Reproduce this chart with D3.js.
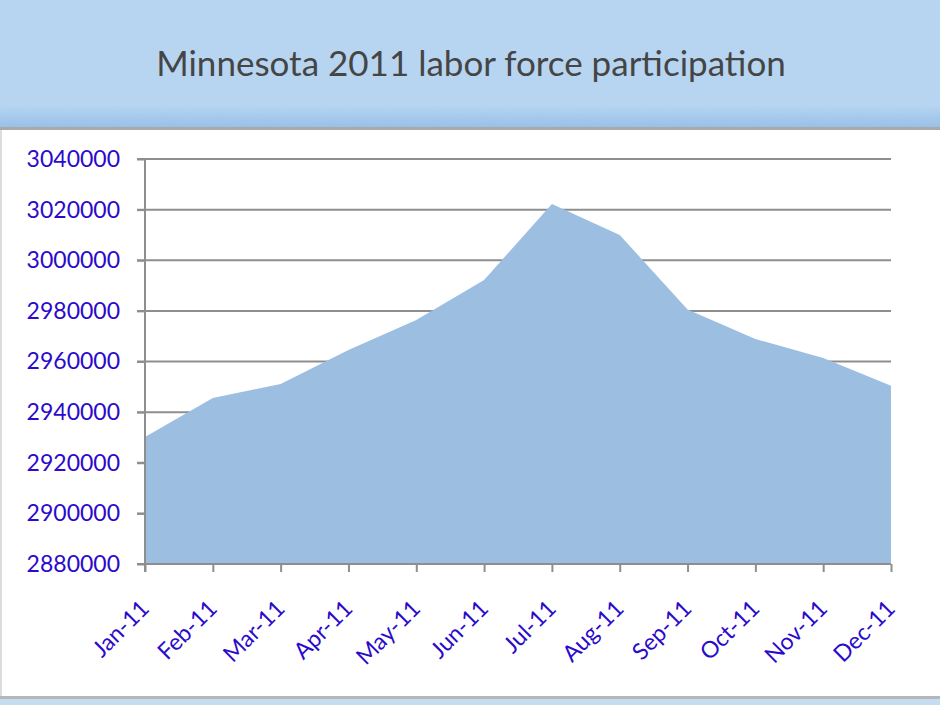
<!DOCTYPE html>
<html>
<head>
<meta charset="utf-8">
<script src="https://cdn.jsdelivr.net/npm/d3@7"></script>
<style>
  html, body { margin: 0; padding: 0; background: #fff; }
  svg { display: block; }
</style>
</head>
<body>
<svg id="chart" width="940" height="705"></svg>
<script>
const months = ["Jan-11","Feb-11","Mar-11","Apr-11","May-11","Jun-11","Jul-11","Aug-11","Sep-11","Oct-11","Nov-11","Dec-11"];
const laborForce = [2930200, 2945600, 2951100, 2964500, 2976400, 2992200, 3022200, 3010000, 2980500, 2968900, 2961400, 2950400];
const yTicks = [2880000, 2900000, 2920000, 2940000, 2960000, 2980000, 3000000, 3020000, 3040000];
const title = "Minnesota 2011 labor force participation";

const svg = d3.select("#chart");
const W = 940, H = 705;

// Background decoration
const defs = svg.append("defs");
const band = defs.append("linearGradient").attr("id","band").attr("x1",0).attr("y1",0).attr("x2",0).attr("y2",1);
band.append("stop").attr("offset","0%").attr("stop-color","#b4d3f0");
band.append("stop").attr("offset","100%").attr("stop-color","#93bde6");
const tex = defs.append("filter").attr("id","tex").attr("x",0).attr("y",0).attr("width","100%").attr("height","100%");
tex.append("feTurbulence").attr("type","fractalNoise").attr("baseFrequency","0.8").attr("numOctaves",2).attr("seed",3).attr("result","n");
tex.append("feColorMatrix").attr("in","n").attr("type","matrix")
  .attr("values","0 0 0 0 0.55  0 0 0 0 0.72  0 0 0 0 0.9  0 0 0 0.18 0").attr("result","c");
tex.append("feComposite").attr("in","c").attr("in2","SourceGraphic").attr("operator","in").attr("result","m");
tex.append("feMerge").call(m => { m.append("feMergeNode").attr("in","SourceGraphic"); m.append("feMergeNode").attr("in","m"); });

svg.append("rect").attr("x",0).attr("y",0).attr("width",W).attr("height",H).attr("fill","#b6d4f1").attr("filter","url(#tex)");
svg.append("rect").attr("x",0).attr("y",106).attr("width",W).attr("height",22).attr("fill","url(#band)").attr("filter","url(#tex)");
svg.append("rect").attr("x",0).attr("y",127).attr("width",W).attr("height",3).attr("fill","#a7a9ad");
svg.append("rect").attr("x",0).attr("y",130).attr("width",W).attr("height",566).attr("fill","#ffffff");
svg.append("rect").attr("x",0).attr("y",130).attr("width",2).attr("height",566).attr("fill","#dcdcdc");
svg.append("rect").attr("x",0).attr("y",696).attr("width",W).attr("height",3).attr("fill","#b5b7ba");
svg.append("rect").attr("x",0).attr("y",699).attr("width",W).attr("height",6).attr("fill","#c6dcf1");

// Title
svg.append("text")
  .attr("x", 471).attr("y", 76)
  .attr("text-anchor","middle")
  .attr("font-family","'Comic Sans MS', 'Lato', sans-serif")
  .attr("font-size", 35)
  .attr("fill","#454545")
  .text(title);

// Scales
const x = d3.scalePoint().domain(months).range([145, 891]);
const y = d3.scaleLinear().domain([2880000, 3040000]).range([564, 159]);

// Gridlines
svg.append("g").selectAll("line").data(yTicks.filter(d => d !== 2880000)).join("line")
  .attr("x1", 137).attr("x2", 891)
  .attr("y1", d => y(d)).attr("y2", d => y(d))
  .attr("stroke","#8e8e8e").attr("stroke-width",2);

// Area
const area = d3.area()
  .x((d,i) => x(months[i]))
  .y0(y(2880000))
  .y1(d => y(d));
svg.append("path").datum(laborForce).attr("d", area).attr("fill","#9cbee1");

// Y axis
const yAxis = d3.axisLeft(y).tickValues(yTicks).tickSize(8).tickPadding(17).tickFormat(d3.format("d"));
const gy = svg.append("g").attr("transform","translate(145,0)").call(yAxis);
gy.select(".domain").attr("stroke","#8e8e8e").attr("stroke-width",2).attr("d","M0,159V572");
gy.selectAll(".tick line").attr("stroke","#8e8e8e").attr("stroke-width",2);
gy.selectAll(".tick text")
  .attr("fill","#2a0acb")
  .attr("font-family","Lato, 'Open Sans', sans-serif")
  .attr("font-size",23);

// X axis
const xAxis = d3.axisBottom(x).tickSize(8).tickSizeOuter(0);
const gx = svg.append("g").attr("transform","translate(0,564)").call(xAxis);
gx.select(".domain").attr("stroke","#8e8e8e").attr("stroke-width",2).attr("d","M137,0H891");
gx.selectAll(".tick line").attr("stroke","#8e8e8e").attr("stroke-width",2);
gx.selectAll(".tick text")
  .attr("fill","#2a0acb")
  .attr("font-family","Lato, 'Open Sans', sans-serif")
  .attr("font-size",23)
  .attr("text-anchor","end")
  .attr("dy",null)
  .attr("y",0)
  .attr("transform","translate(5,46) rotate(-45)");
</script>
</body>
</html>
